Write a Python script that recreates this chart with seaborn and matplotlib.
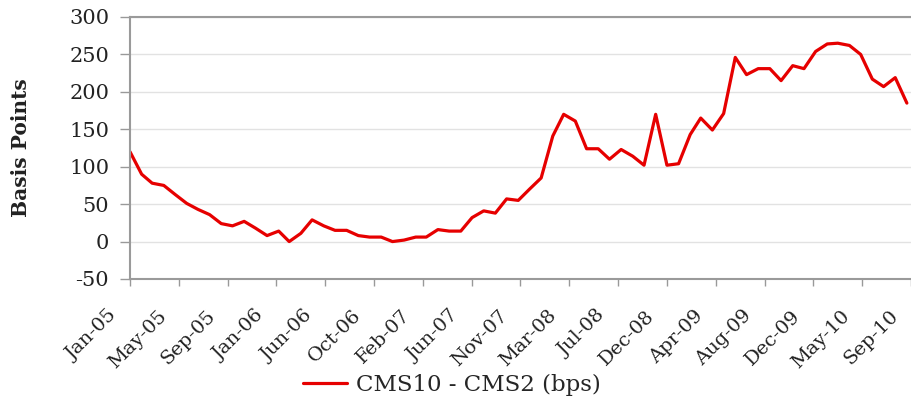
import matplotlib
matplotlib.use("Agg")
import matplotlib.pyplot as plt
import matplotlib.dates as mdates
import matplotlib.transforms as mtransforms
import numpy as np
import pandas as pd
import seaborn as sns

# ---- data (monthly, Jan-05 .. Sep-10) ----
start_month = "2005-01-01"
n_months = 69
spread_bps = [
    120, 90, 78, 75, 63, 51, 43, 36, 24, 21,
    27, 18, 8, 14, 0, 11, 29, 21, 15, 15,
    8, 6, 6, 0, 2, 6, 6, 16, 14, 14,
    32, 41, 38, 57, 55, 70, 85, 141, 170, 161,
    124, 124, 110, 123, 114, 102, 170, 102, 104, 143,
    165, 149, 171, 246, 223, 231, 231, 215, 235, 231,
    254, 264, 265, 262, 250, 217, 207, 219, 185,
]
series_name = "CMS10 - CMS2 (bps)"
tick_labels = ["Jan-05", "May-05", "Sep-05", "Jan-06", "Jun-06", "Oct-06",
               "Feb-07", "Jun-07", "Nov-07", "Mar-08", "Jul-08", "Dec-08",
               "Apr-09", "Aug-09", "Dec-09", "May-10", "Sep-10"]
tick_step_days = 130
y_ticks = [-50, 0, 50, 100, 150, 200, 250, 300]

dates = pd.date_range(start_month, periods=n_months, freq="MS")
df = pd.DataFrame({"date": dates, "value": spread_bps, "series": series_name})

sns.set_theme(style="white")
plt.rcParams["font.family"] = ["DejaVu Serif"]

fig = plt.figure(figsize=(9.11, 4.04), dpi=100)
ax = fig.add_axes([130 / 911, 1 - 279 / 404, 781 / 911, 262 / 404])

sns.lineplot(data=df, x="date", y="value", hue="series", palette=["#e60000"],
             linewidth=2.3, ax=ax)

t0 = pd.Timestamp(start_month)
tick_dates = [t0 + pd.Timedelta(days=tick_step_days * k) for k in range(len(tick_labels))]
ax.set_xticks([mdates.date2num(d) for d in tick_dates])
ax.set_xticklabels(tick_labels, rotation=45, ha="right", va="bottom",
                   rotation_mode="anchor", fontsize=14, color="#222222")
ax.set_xlim(mdates.date2num(t0), mdates.date2num(t0 + pd.Timedelta(days=2080)))

ax.set_ylim(-50, 300)
ax.set_yticks(y_ticks)
ax.set_yticklabels([f"{v}" for v in y_ticks], fontsize=15, color="#222222")
ax.grid(axis="y", which="major", color="#e2e2e2", linewidth=1.0)
ax.set_axisbelow(True)

ax.tick_params(axis="y", length=7, width=1, color="#999999", pad=8, left=True)
ax.tick_params(axis="x", length=5, width=1, color="#999999", pad=24, bottom=True)

for side in ["left", "bottom", "top"]:
    ax.spines[side].set_color("#9a9a9a")
    ax.spines[side].set_linewidth(1.5)
ax.spines["right"].set_visible(False)

ax.set_xlabel("")
ax.set_ylabel("")
fig.text(21 / 911, 1 - 148 / 404, "Basis Points", rotation=90, ha="center",
         va="center", fontsize=14.5, fontweight="bold", color="#222222")

handles, labels = ax.get_legend_handles_labels()
ax.legend(handles, labels, loc="center", bbox_to_anchor=(452 / 911, 1 - 385 / 404),
          bbox_transform=fig.transFigure, frameon=False, fontsize=16.5,
          handlelength=1.9, handletextpad=0.4)

# shift the rotated x labels a little to the left of their tick marks (after tick_params)
offset = mtransforms.ScaledTranslation(-9 / 100, 0, fig.dpi_scale_trans)
for lab in ax.get_xticklabels():
    lab.set_transform(lab.get_transform() + offset)

fig.savefig("out.png", dpi=100)
